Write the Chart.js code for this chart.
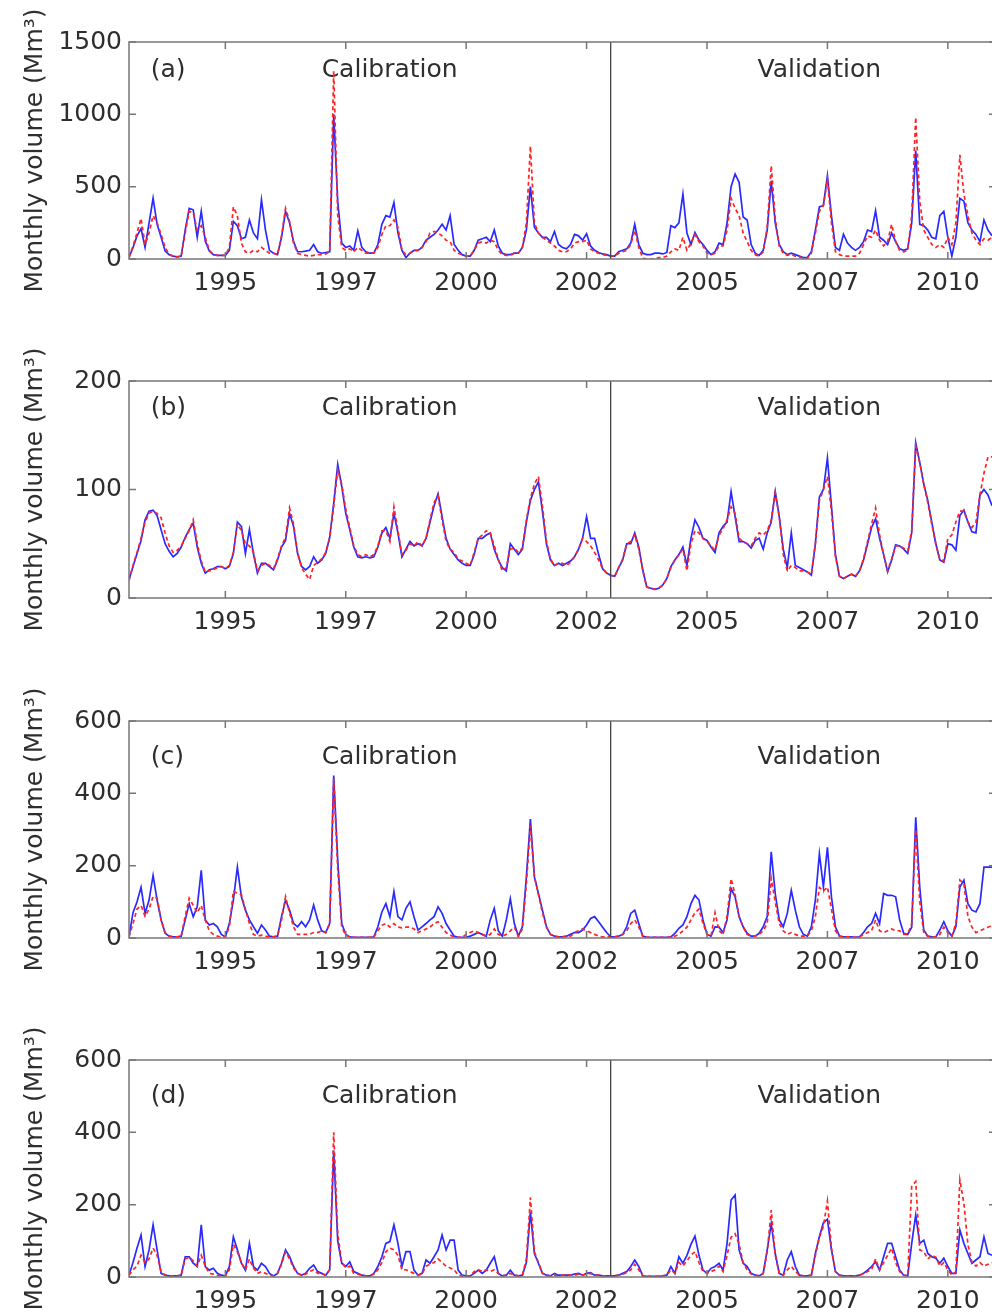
<!DOCTYPE html>
<html>
<head>
<meta charset="utf-8">
<script src="https://cdn.jsdelivr.net/npm/chart.js@4.4.0/dist/chart.umd.min.js"></script>
<style>
html,body{margin:0;padding:0;background:#fff;overflow:hidden;width:992px;height:1316px;position:relative}
canvas{position:absolute;left:0}
</style>
</head>
<body>
<canvas id="pa" width="1010" height="301" style="top:0px"></canvas>
<canvas id="pb" width="1010" height="301" style="top:339px"></canvas>
<canvas id="pc" width="1010" height="301" style="top:679px"></canvas>
<canvas id="pd" width="1010" height="301" style="top:1018px"></canvas>
<script>
// monthly series, Jan 1993 .. Dec 2010 (one row per year)
const firstYear=1993;
const splitYear=2003;
const xTickValues=[1995,1997.5,2000,2002.5,2005,2007.5,2010];
const xTickLabels=["1995","1997","2000","2002","2005","2007","2010"];

const obsA=[
10,80,160,210,80,250,420,240,150,55,30,20,
15,20,200,350,340,150,330,125,55,30,25,25,
25,60,260,230,140,150,270,180,140,410,200,60,
40,30,150,330,250,120,50,50,55,60,100,50,
40,45,50,1000,400,110,80,90,60,195,80,50,
40,40,100,240,300,290,390,180,60,10,40,60,
60,80,130,150,170,200,240,200,300,100,60,30,
20,20,60,130,140,150,120,200,90,40,30,30,
40,40,80,200,500,220,180,150,150,120,190,100,
80,70,100,170,160,130,175,90,60,45,35,30,
20,20,50,60,70,110,240,100,40,30,30,40,
40,35,45,230,217,250,449,180,100,183,130,100,
60,30,50,110,100,250,500,588,530,290,270,100,
40,25,60,200,540,250,100,50,30,40,30,20,
10,10,50,200,360,370,576,300,80,60,171,110,
80,60,80,120,200,190,333,150,130,100,180,120,
70,60,70,250,750,240,230,200,150,140,300,330,
150,20,150,420,400,250,200,170,120,270,200,160];
const simA=[
10,90,180,280,100,180,300,250,170,80,30,20,
15,20,180,330,320,200,230,150,60,30,25,25,
25,80,360,300,110,50,40,60,50,80,60,40,
40,30,160,350,260,110,40,30,25,20,25,30,
30,35,50,1300,300,80,60,70,50,80,60,40,
40,40,80,170,230,230,270,220,60,30,40,60,
60,80,120,180,190,180,160,130,120,60,40,30,
20,20,60,110,120,110,130,120,60,30,25,25,
40,40,80,250,780,250,180,150,130,110,90,60,
50,50,70,110,120,120,130,70,50,40,30,25,
20,20,40,50,60,100,200,80,5,0,0,0,
10,10,20,50,70,60,150,60,110,170,120,90,
40,30,40,90,90,200,420,350,300,180,120,60,
30,20,50,220,645,280,90,40,25,30,20,15,
5,5,40,180,330,370,550,250,50,30,20,20,
20,20,40,100,160,150,200,130,90,120,240,120,
60,50,60,300,980,400,200,150,100,80,100,80,
150,100,250,720,450,300,180,130,100,140,130,150];

const obsB=[
17,29,41,53,72,80,81,76,63,50,43,38,
41,47,56,63,69,47,32,23,26,27,29,29,
27,29,41,70,66,41,63,41,23,32,32,29,
26,35,47,53,78,66,41,29,26,29,38,32,
35,41,56,87,123,103,78,63,47,38,37,38,
37,38,47,60,65,55,78,60,38,45,52,48,
50,48,55,70,85,96,75,55,45,40,35,32,
30,30,40,55,55,58,60,45,35,28,25,50,
45,40,45,70,90,100,107,80,50,35,30,32,
30,32,34,38,45,55,75,55,55,40,27,23,
21,20,28,35,50,50,60,47,26,10,9,8,
9,12,18,29,35,40,47,30,55,72,65,55,
53,47,42,60,66,70,98,75,52,52,50,46,
53,55,45,60,70,98,75,45,28,60,30,28,
26,24,21,50,93,100,129,85,40,20,18,20,
22,20,25,35,50,65,73,55,40,24,35,49,
48,45,41,60,143,125,105,90,70,50,35,33,
50,49,44,76,81,70,61,60,95,100,95,85];
const simB=[
16,30,42,55,70,78,80,78,74,60,48,42,
44,48,55,62,72,50,34,24,25,26,28,29,
27,30,42,68,62,50,48,42,25,30,32,30,
27,36,48,56,83,68,42,28,22,17,30,33,
36,42,55,85,118,105,82,65,48,40,38,40,
38,40,48,62,62,52,84,62,40,44,50,48,
52,48,55,72,88,94,72,52,45,42,36,34,
32,30,42,55,58,62,60,48,36,25,28,45,
46,42,46,72,92,105,112,85,52,36,30,32,
32,30,33,38,45,55,52,48,42,35,27,23,
21,20,28,36,50,52,58,45,25,10,9,8,
9,12,18,28,35,40,45,25,50,62,60,55,
52,48,44,58,64,72,84,78,55,52,50,48,
55,60,58,62,72,97,75,40,25,30,28,25,
25,24,22,50,90,100,112,80,38,20,18,20,
22,20,25,36,52,68,83,58,40,25,36,48,
48,46,43,62,140,125,105,88,68,50,36,34,
55,58,70,80,80,70,65,70,95,115,130,130];

const obsC=[
4,70,100,140,68,105,173,105,50,13,5,3,
3,5,50,95,59,86,187,50,36,40,31,10,
3,40,105,196,114,77,50,31,13,36,22,5,
3,5,59,105,77,40,31,45,31,50,91,50,
20,15,40,449,215,40,10,3,2,2,2,2,
2,3,31,72,95,59,128,59,50,82,100,59,
22,31,40,50,59,86,68,40,22,5,2,2,
2,5,10,15,10,5,50,82,20,5,50,109,
40,5,31,169,329,169,123,77,31,10,5,3,
3,5,10,15,15,22,36,54,59,45,30,15,
3,3,5,10,31,68,77,40,5,2,2,2,
2,2,2,3,13,27,36,59,95,118,105,50,
10,5,31,30,15,50,137,114,59,31,13,5,
5,13,31,59,238,123,50,31,68,132,77,31,
10,5,31,105,233,141,251,114,31,5,3,3,
3,2,3,15,31,40,68,40,123,118,118,114,
50,13,10,30,334,141,22,5,3,3,22,45,
20,5,31,141,160,95,77,72,95,196,196,196];
const simC=[
3,40,80,90,60,80,115,110,50,15,5,3,
3,5,60,110,90,70,90,50,20,10,5,3,
3,30,130,123,120,80,40,10,5,8,5,3,
3,5,50,114,70,30,10,10,10,10,15,15,
20,15,40,440,190,30,8,3,2,2,2,2,
2,3,20,35,40,30,40,30,28,30,30,25,
15,20,25,30,40,45,30,15,8,3,2,2,
10,15,20,15,10,5,10,25,10,5,10,20,
30,5,25,150,310,170,120,70,30,10,5,3,
3,5,5,15,20,25,20,15,10,5,3,3,
3,3,5,10,20,40,50,30,5,2,2,2,
2,2,2,3,5,10,20,30,50,70,80,40,
10,5,70,20,10,60,164,120,60,30,10,5,
5,10,20,40,165,100,40,20,10,15,10,5,
5,5,20,60,140,130,141,80,20,5,3,3,
3,2,3,10,15,20,50,20,15,20,25,20,
20,10,10,40,300,100,15,5,3,3,10,30,
15,5,40,160,150,60,30,15,20,25,30,35];

const obsD=[
5,40,80,116,29,75,144,75,10,5,3,3,
3,5,56,56,38,29,144,29,19,24,10,5,
3,29,111,75,38,19,93,29,19,38,29,10,
3,10,38,75,56,29,10,5,10,24,33,15,
10,5,20,350,100,38,29,42,15,10,5,3,
3,10,29,56,93,98,144,93,29,70,70,19,
5,10,47,38,56,75,116,75,102,102,19,5,
3,3,10,19,10,19,38,56,10,3,5,19,
5,3,5,40,180,65,38,10,5,3,10,5,
5,5,5,8,10,5,10,12,5,5,3,3,
3,3,5,10,15,29,47,29,3,2,2,2,
2,3,5,29,10,56,38,60,90,113,60,19,
10,24,29,38,19,93,213,227,75,38,29,10,
5,3,10,75,148,65,10,5,47,70,29,5,
3,3,5,65,112,150,160,75,15,5,3,3,
3,3,5,10,19,29,42,19,56,93,93,56,
19,5,3,93,171,93,102,65,56,52,38,52,
29,10,10,130,93,65,38,47,56,111,65,60];
const simD=[
5,20,30,60,40,50,80,60,15,5,3,3,
3,5,50,55,45,30,60,30,10,8,5,3,
3,20,90,70,40,20,50,25,10,15,10,5,
3,10,35,70,50,25,10,5,8,15,20,10,
10,5,20,400,120,40,25,30,10,8,5,3,
3,8,20,40,70,80,75,60,20,20,15,10,
5,8,30,35,40,50,40,30,25,20,5,3,
3,3,15,20,15,20,15,20,10,3,5,10,
5,3,5,50,220,70,40,10,5,3,5,3,
5,5,5,5,8,5,8,10,5,5,3,3,
3,3,5,8,12,20,35,20,3,2,2,2,
2,3,5,20,10,40,30,45,60,70,40,15,
10,15,20,30,15,60,110,120,90,40,20,8,
5,3,10,70,185,60,10,5,20,30,15,5,
3,3,5,60,110,140,210,80,15,5,3,3,
3,3,5,10,15,20,50,20,40,60,80,40,
15,5,3,250,264,75,70,50,60,55,30,40,
20,5,15,268,204,90,40,30,40,30,35,40];

const panelTags=["(a)","(b)","(c)","(d)"];
const yMax=[1500,200,600,600];
const yStep=[500,100,200,200];
const textY=[1300,175,500,500];
const tagX=1993.45, calX=1997.0, valX=2006.05;

Chart.defaults.font.family="'DejaVu Sans', sans-serif";
Chart.defaults.font.size=25;
Chart.defaults.color="#2e2e2e";

const months=obsA.map((v,i)=>firstYear+i/12);
function pts(arr){return arr.map((v,i)=>({x:months[i],y:v}));}

const labels={
id:'labels',
beforeDatasetsDraw(chart,args,o){
let {ctx,scales:{x,y}}=chart;
ctx.save();
ctx.fillStyle="#2e2e2e";
ctx.font="25px 'DejaVu Sans'";
ctx.textBaseline="middle";
ctx.textAlign="left";
let ty=y.getPixelForValue(o.textY);
ctx.fillText(o.tag,x.getPixelForValue(tagX),ty);
ctx.fillText("Calibration",x.getPixelForValue(calX),ty);
ctx.fillText("Validation",x.getPixelForValue(valX),ty);
ctx.restore();
},
afterDatasetsDraw(chart){
let {ctx,chartArea:a,scales:{x,y}}=chart;
ctx.save();
let sx=x.getPixelForValue(splitYear);
ctx.strokeStyle="#444";ctx.lineWidth=1.3;
ctx.beginPath();ctx.moveTo(sx,a.top);ctx.lineTo(sx,a.bottom);ctx.stroke();
ctx.strokeStyle="#777";ctx.lineWidth=1.5;
ctx.strokeRect(a.left,a.top,a.right-a.left,a.bottom-a.top);
ctx.beginPath();
x.ticks.forEach(t=>{let px=x.getPixelForValue(t.value);
ctx.moveTo(px,a.bottom);ctx.lineTo(px,a.bottom-7);
ctx.moveTo(px,a.top);ctx.lineTo(px,a.top+7);});
y.ticks.forEach(t=>{let py=y.getPixelForValue(t.value);
ctx.moveTo(a.left,py);ctx.lineTo(a.left+7,py);
ctx.moveTo(a.right,py);ctx.lineTo(a.right-7,py);});
ctx.stroke();
ctx.restore();
}
};

function makePanel(id,k,obs,sim){
new Chart(document.getElementById(id),{
type:'line',
data:{datasets:[
{data:pts(sim),borderColor:"#ff2424",borderWidth:1.7,borderDash:[4,3],pointRadius:0,tension:0},
{data:pts(obs),borderColor:"#2a2aff",borderWidth:1.7,pointRadius:0,tension:0}
]},
options:{
responsive:false,animation:false,events:[],
layout:{padding:{top:42,right:14,left:0,bottom:0}},
plugins:{legend:{display:false},tooltip:{enabled:false},
labels:{tag:panelTags[k],textY:textY[k]}},
scales:{
x:{type:'linear',min:firstYear,max:2011,
grid:{display:false,drawTicks:false},border:{display:false},
afterBuildTicks:s=>{s.ticks=xTickValues.map(v=>({value:v}));},
afterFit:s=>{s.height=42;},
ticks:{autoSkip:false,maxRotation:0,padding:9,callback:(v,i)=>xTickLabels[i]}},
y:{min:0,max:yMax[k],
grid:{display:false,drawTicks:false},border:{display:false},
afterFit:s=>{s.width=129;},
ticks:{stepSize:yStep[k],padding:7,callback:v=>String(v)},
title:{display:true,text:"Monthly volume (Mm³)",padding:{top:20,bottom:0},color:"#2e2e2e",font:{size:25}}}
}
},
plugins:[labels]
});
}

makePanel("pa",0,obsA,simA);
makePanel("pb",1,obsB,simB);
makePanel("pc",2,obsC,simC);
makePanel("pd",3,obsD,simD);
</script>
</body>
</html>
